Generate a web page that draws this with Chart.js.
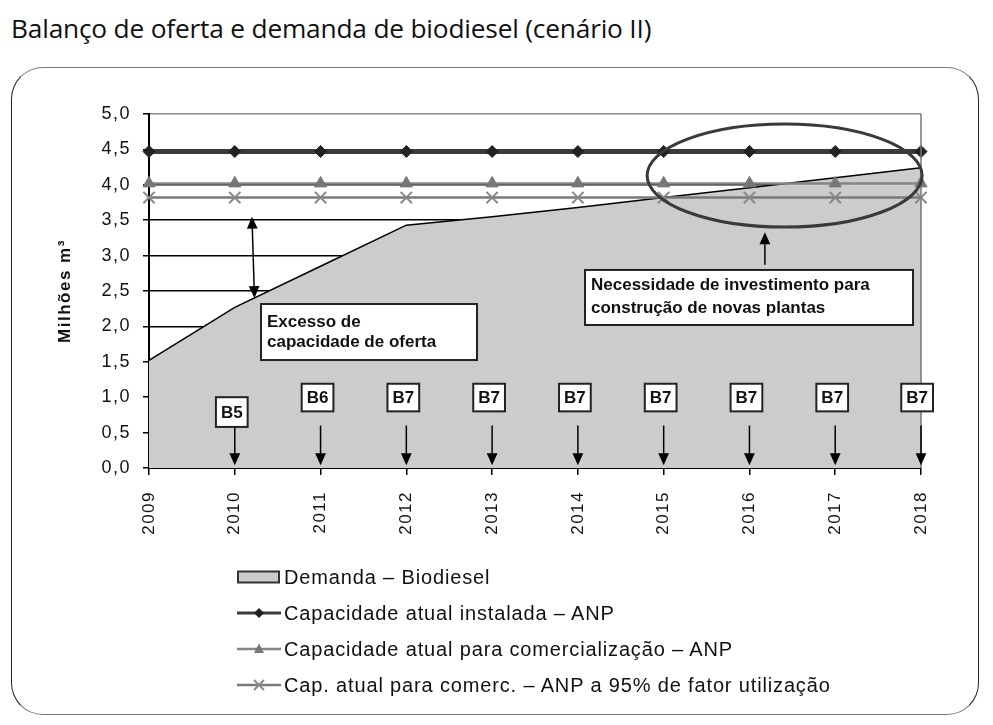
<!DOCTYPE html>
<html lang="pt">
<head>
<meta charset="utf-8">
<title>Balanço de oferta e demanda de biodiesel (cenário II)</title>
<script src="https://cdn.jsdelivr.net/npm/chart.js@4/dist/chart.umd.min.js"></script>
<style>
  html, body { margin: 0; padding: 0; background: #fff; }
  body { width: 993px; height: 725px; position: relative; overflow: hidden; }
  #titulo {
    position: absolute; left: 11px; top: 10px; margin: 0; line-height: 36px;
    font: 26.3px "Open Sans", sans-serif; color: #111; font-weight: normal; letter-spacing: -0.2px;
  }
  #moldura {
    position: absolute; left: 11px; top: 67px; width: 966px; height: 646px;
    border: 1.5px solid #222; border-top-color: #777; border-bottom-color: #777;
    border-radius: 32px;
  }
  #grafico { position: absolute; left: 0; top: 0; }
  #legenda {
    position: absolute; left: 237px; top: 559px;
    font: 20px "Liberation Sans", Arial, sans-serif; letter-spacing: 0.85px; color: #111;
  }
  #legenda .item { height: 36px; display: flex; align-items: center; white-space: nowrap; }
  #legenda svg { margin-right: 3px; flex: none; }
</style>
</head>
<body>
<h1 id="titulo">Balanço de oferta e demanda de biodiesel (cenário II)</h1>
<div id="moldura"></div>
<canvas id="grafico" width="993" height="725"></canvas>
<div id="legenda"></div>

<script>
// ------------------------------------------
// Dados
// ------------------------------------------
const anos = ['2009', '2010', '2011', '2012', '2013', '2014', '2015', '2016', '2017', '2018'];
const demanda = [1.52, 2.27, 2.85, 3.43, 3.55, 3.68, 3.82, 3.96, 4.10, 4.24];
const capInstalada = [4.47, 4.47, 4.47, 4.47, 4.47, 4.47, 4.47, 4.47, 4.47, 4.47];
const capComercializacao = [4.02, 4.02, 4.02, 4.02, 4.02, 4.02, 4.02, 4.02, 4.02, 4.02];
const capComerc95 = [3.82, 3.82, 3.82, 3.82, 3.82, 3.82, 3.82, 3.82, 3.82, 3.82];
const misturas = ['', 'B5', 'B6', 'B7', 'B7', 'B7', 'B7', 'B7', 'B7', 'B7'];
const yMin = 0, yMax = 5, yPasso = 0.5;

// ------------------------------------------
// Anotações (setas, caixas, elipse)
// ------------------------------------------
function seta(ctx, x1, y1, x2, y2, ponta) {
    const ang = Math.atan2(y2 - y1, x2 - x1);
    ctx.beginPath();
    ctx.moveTo(x1, y1);
    ctx.lineTo(x2 - Math.cos(ang) * ponta * 0.8, y2 - Math.sin(ang) * ponta * 0.8);
    ctx.stroke();
    ctx.beginPath();
    ctx.moveTo(x2, y2);
    ctx.lineTo(x2 - ponta * Math.cos(ang) + ponta * 0.45 * Math.sin(ang), y2 - ponta * Math.sin(ang) - ponta * 0.45 * Math.cos(ang));
    ctx.lineTo(x2 - ponta * Math.cos(ang) - ponta * 0.45 * Math.sin(ang), y2 - ponta * Math.sin(ang) + ponta * 0.45 * Math.cos(ang));
    ctx.closePath();
    ctx.fill();
}

function caixaTexto(ctx, x1, y1, x2, y2, linhas, tx, ys) {
    ctx.fillStyle = '#fff';
    ctx.fillRect(x1, y1, x2 - x1, y2 - y1);
    ctx.lineWidth = 2;
    ctx.strokeStyle = '#222';
    ctx.strokeRect(x1, y1, x2 - x1, y2 - y1);
    ctx.fillStyle = '#111';
    ctx.font = 'bold 17px "Liberation Sans", Arial, sans-serif';
    ctx.textAlign = 'left';
    ctx.textBaseline = 'middle';
    linhas.forEach((l, i) => ctx.fillText(l, tx, ys[i]));
}

const espacamentoTexto = {
    id: 'espacamentoTexto',
    beforeDraw(chart) { chart.ctx.letterSpacing = '1.5px'; }
};

const anotacoes = {
    id: 'anotacoes',
    afterDatasetsDraw(chart) {
        const { ctx, chartArea, scales: { x, y } } = chart;
        ctx.save();
        ctx.letterSpacing = '0px';

        // borda direita da área do gráfico
        ctx.strokeStyle = '#777';
        ctx.lineWidth = 1.5;
        ctx.beginPath();
        ctx.moveTo(chartArea.right, chartArea.top);
        ctx.lineTo(chartArea.right, chartArea.bottom);
        ctx.stroke();

        // seta dupla "excesso de capacidade"
        ctx.strokeStyle = '#000';
        ctx.fillStyle = '#000';
        ctx.lineWidth = 1.5;
        const xa1 = x.getPixelForValue(1.2), xa2 = x.getPixelForValue(1.23);
        const ya1 = y.getPixelForValue(3.55), ya2 = y.getPixelForValue(2.4);
        const ym = (ya1 + ya2) / 2, xm = (xa1 + xa2) / 2;
        seta(ctx, xm, ym, xa1, ya1, 12);
        seta(ctx, xm, ym, xa2, ya2, 12);

        caixaTexto(ctx, x.getPixelForValue(1.306), y.getPixelForValue(2.316),
            x.getPixelForValue(3.824), y.getPixelForValue(1.525),
            ['Excesso de', 'capacidade de oferta'],
            x.getPixelForValue(1.306) + 6, [y.getPixelForValue(2.06), y.getPixelForValue(1.77)]);

        // elipse e seta "necessidade de investimento"
        const cx = x.getPixelForValue(7.41), cy = y.getPixelForValue(4.13);
        const rx = x.getPixelForValue(1.603) - x.getPixelForValue(0);
        const ry = y.getPixelForValue(0) - y.getPixelForValue(0.727);
        ctx.strokeStyle = '#3a3a3a';
        ctx.lineWidth = 3;
        ctx.beginPath();
        ctx.ellipse(cx, cy, rx, ry, 0, 0, Math.PI * 2);
        ctx.stroke();

        ctx.strokeStyle = '#000';
        ctx.fillStyle = '#000';
        ctx.lineWidth = 1.5;
        seta(ctx, x.getPixelForValue(7.18), y.getPixelForValue(2.87), x.getPixelForValue(7.18), y.getPixelForValue(3.33), 12);

        caixaTexto(ctx, x.getPixelForValue(5.083), y.getPixelForValue(2.797),
            x.getPixelForValue(8.907), y.getPixelForValue(2.02),
            ['Necessidade de investimento para', 'construção de novas plantas'],
            x.getPixelForValue(5.083) + 6, [y.getPixelForValue(2.585), y.getPixelForValue(2.26)]);

        // caixas de mistura (B5, B6, B7) com setas para o eixo
        misturas.forEach((rotulo, i) => {
            if (!rotulo) return;
            const px = x.getPixelForValue(i);
            const topo = y.getPixelForValue(i === 1 ? 1.0 : 1.19);
            const base = y.getPixelForValue(i === 1 ? 0.58 : 0.8);
            ctx.font = 'bold 17px "Liberation Sans", Arial, sans-serif';
            const w = ctx.measureText(rotulo).width + 10;
            const bx = Math.min(px - w / 2 - 3, chartArea.right + 12 - w);
            ctx.fillStyle = '#fff';
            ctx.fillRect(bx, topo, w, base - topo);
            ctx.strokeStyle = '#222';
            ctx.lineWidth = 2;
            ctx.strokeRect(bx, topo, w, base - topo);
            ctx.fillStyle = '#111';
            ctx.textAlign = 'center';
            ctx.textBaseline = 'middle';
            ctx.fillText(rotulo, bx + w / 2, (topo + base) / 2 + 1);

            ctx.strokeStyle = '#000';
            ctx.fillStyle = '#000';
            ctx.lineWidth = 1.5;
            const inicio = i === 1 ? base : y.getPixelForValue(0.6);
            seta(ctx, px, inicio, px, y.getPixelForValue(0.04), 12);
        });

        ctx.restore();
    }
};

// ------------------------------------------
// Gráfico
// ------------------------------------------
const grafico = new Chart(document.getElementById('grafico'), {
    type: 'line',
    data: {
        labels: anos,
        datasets: [
            {
                label: 'Demanda – Biodiesel',
                data: demanda,
                fill: 'origin',
                backgroundColor: '#cccccc',
                borderColor: '#000',
                borderWidth: 1.5,
                pointRadius: 0,
                tension: 0,
                order: 10
            },
            {
                label: 'Capacidade atual instalada – ANP',
                data: capInstalada,
                borderColor: '#3a3a3a',
                borderWidth: 5,
                pointStyle: 'rectRot',
                pointRadius: 6,
                pointBackgroundColor: '#222',
                pointBorderColor: '#222',
                pointBorderWidth: 1,
                order: 1
            },
            {
                label: 'Capacidade atual para comercialização – ANP',
                data: capComercializacao,
                borderColor: '#858585',
                borderWidth: 2.5,
                pointStyle: 'triangle',
                pointRadius: 7,
                pointBackgroundColor: '#777',
                pointBorderColor: '#777',
                pointBorderWidth: 1,
                order: 2
            },
            {
                label: 'Cap. atual para comerc. – ANP a 95% de fator utilização',
                data: capComerc95,
                borderColor: '#7a7a7a',
                borderWidth: 2.5,
                pointStyle: 'crossRot',
                pointRadius: 8,
                pointBorderColor: '#888',
                pointBorderWidth: 2,
                order: 3
            }
        ]
    },
    options: {
        responsive: false,
        animation: false,
        events: [],
        layout: { padding: { left: 40, right: 72, top: 114, bottom: 0 } },
        plugins: { legend: { display: false }, tooltip: { enabled: false } },
        scales: {
            x: {
                grid: { drawOnChartArea: false, drawTicks: true, tickLength: 7, color: '#000', lineWidth: 1.5 },
                border: { color: '#000', width: 2 },
                ticks: {
                    color: '#111', maxRotation: 90, minRotation: 90, padding: 16,
                    font: { family: '"Liberation Sans", Arial, sans-serif', size: 17 }
                },
                afterFit(scale) { scale.height = 257; }
            },
            y: {
                min: yMin, max: yMax,
                grid: {
                    color: (c) => (c.tick && c.tick.value === yMax ? '#8a8a8a' : '#000'),
                    tickColor: '#000', lineWidth: 1.5, tickLength: 6
                },
                border: { color: '#000', width: 2 },
                ticks: {
                    stepSize: yPasso, color: '#111', padding: 12,
                    font: { family: '"Liberation Sans", Arial, sans-serif', size: 18 },
                    callback: (v) => v.toFixed(1).replace('.', ',')
                },
                title: {
                    display: true, text: 'Milhões m³', color: '#111',
                    font: { family: '"Liberation Sans", Arial, sans-serif', size: 17, weight: 'bold' },
                    padding: { top: 15, bottom: 0 }
                },
                afterFit(scale) { scale.width = 109; }
            }
        }
    },
    plugins: [espacamentoTexto, anotacoes]
});

// ------------------------------------------
// Legenda (HTML, gerada a partir dos datasets)
// ------------------------------------------
function iconeLegenda(ds) {
    if (ds.fill) {
        return `<svg width="44" height="14"><rect x="1" y="1.5" width="41" height="11" fill="${ds.backgroundColor}" stroke="#333" stroke-width="2"/></svg>`;
    }
    let marca = '';
    if (ds.pointStyle === 'rectRot') marca = `<polygon points="22,2 27,7 22,12 17,7" fill="${ds.pointBackgroundColor}"/>`;
    if (ds.pointStyle === 'triangle') marca = `<polygon points="22,1.5 27,11 17,11" fill="${ds.pointBackgroundColor}"/>`;
    if (ds.pointStyle === 'crossRot') marca = `<path d="M17,2 L27,12 M27,2 L17,12" stroke="${ds.pointBorderColor}" stroke-width="1.8"/>`;
    return `<svg width="44" height="14"><line x1="0" y1="7" x2="44" y2="7" stroke="${ds.borderColor}" stroke-width="${Math.min(ds.borderWidth, 3)}"/>${marca}</svg>`;
}

const legenda = document.getElementById('legenda');
grafico.data.datasets.forEach(ds => {
    const item = document.createElement('div');
    item.className = 'item';
    item.innerHTML = iconeLegenda(ds) + '<span></span>';
    item.querySelector('span').textContent = ds.label;
    legenda.appendChild(item);
});
</script>
</body>
</html>
